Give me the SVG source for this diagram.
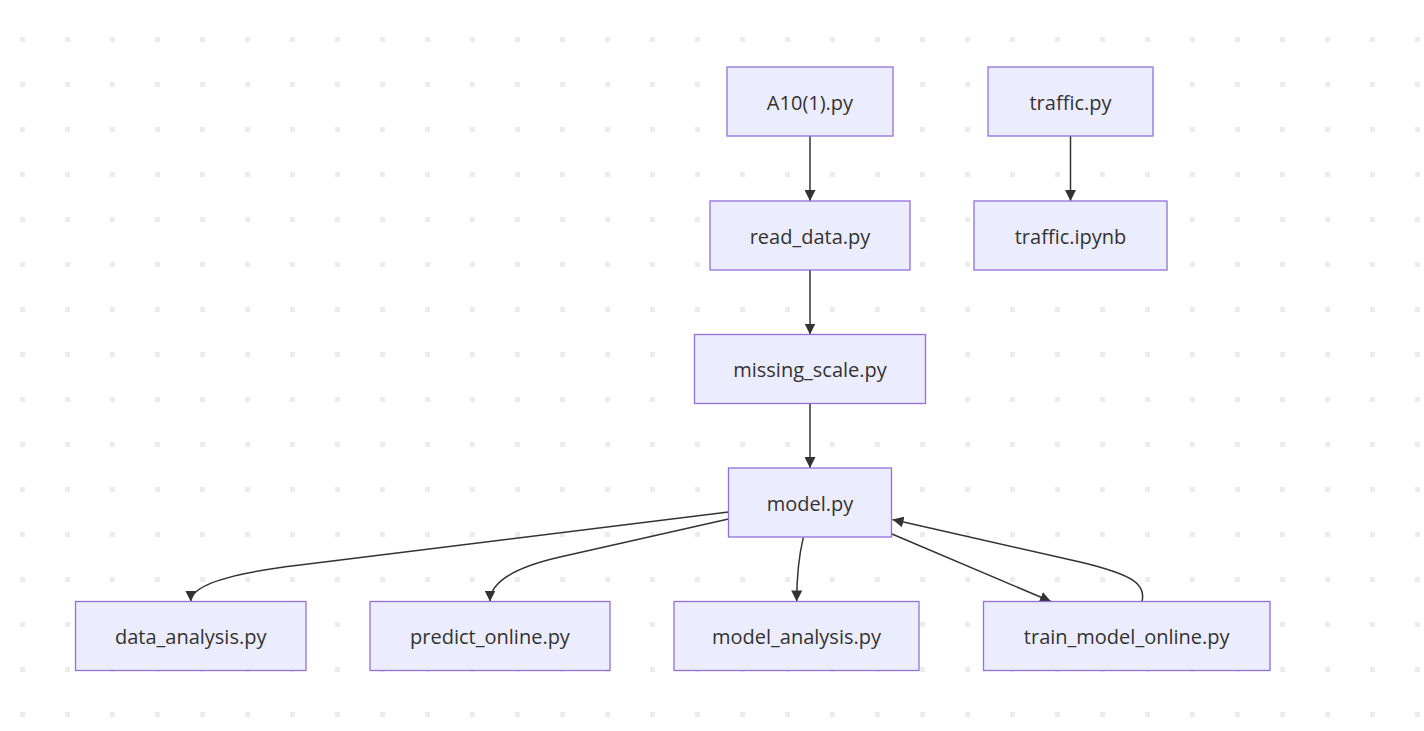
<svg xmlns="http://www.w3.org/2000/svg" width="1424" height="731" viewBox="0 0 1424 731">
<style>
.node rect{fill:#ECECFF;stroke:#9370DB;stroke-width:1.3}
.node text{font-family:"Open Sans","DejaVu Sans",sans-serif;font-size:20px;fill:#333;text-anchor:middle}
.edge{fill:none;stroke:#333;stroke-width:1.5;marker-end:url(#arrow)}
</style>
<defs>
<pattern id="dots" patternUnits="userSpaceOnUse" x="20" y="37" width="45" height="45">
<rect x="0" y="0" width="5" height="5" fill="#ececec"/>
</pattern>
<marker id="arrow" viewBox="0 0 10 10" refX="10" refY="5" markerUnits="userSpaceOnUse" markerWidth="11" markerHeight="11" orient="auto">
<path d="M0,0 L10,5 L0,10 z" fill="#333"/>
</marker>
</defs>
<rect x="0" y="0" width="1424" height="731" fill="#ffffff"/>
<rect x="0" y="0" width="1424" height="731" fill="url(#dots)"/>
<g id="edges">
<path class="edge" d="M810,136 L810,201"/>
<path class="edge" d="M1070.5,136 L1070.5,201"/>
<path class="edge" d="M810,270 L810,334.5"/>
<path class="edge" d="M810,403.5 L810,468"/>
<path class="edge" d="M728.5,512 L300,565 Q190.7,578 190.7,601.5"/>
<path class="edge" d="M728.5,519 L560,557 Q490,573 490,601.5"/>
<path class="edge" d="M803.3,537.3 Q796.7,565 796.7,601.5"/>
<path class="edge" d="M892,534 L1051,601.5"/>
<path class="edge" d="M1142,601.5 C1146,585 1135,575 1080,562 L892.5,519.5"/>
</g>
<g id="n-a10" class="node"><rect x="727" y="67" width="166" height="69"/><text x="810" y="109.5">A10(1).py</text></g>
<g id="n-traffic-py" class="node"><rect x="988" y="67" width="165" height="69"/><text x="1070.5" y="109.5">traffic.py</text></g>
<g id="n-read-data" class="node"><rect x="710" y="201" width="200" height="69"/><text x="810" y="243.5">read_data.py</text></g>
<g id="n-traffic-ipynb" class="node"><rect x="974" y="201" width="193" height="69"/><text x="1070.5" y="243.5">traffic.ipynb</text></g>
<g id="n-missing-scale" class="node"><rect x="694.5" y="334.5" width="231" height="69"/><text x="810" y="377">missing_scale.py</text></g>
<g id="n-model" class="node"><rect x="728.5" y="468" width="163" height="69"/><text x="810" y="510.5">model.py</text></g>
<g id="n-data-analysis" class="node"><rect x="75.5" y="601.5" width="230.5" height="69"/><text x="190.7" y="644">data_analysis.py</text></g>
<g id="n-predict-online" class="node"><rect x="370" y="601.5" width="240" height="69"/><text x="490" y="644">predict_online.py</text></g>
<g id="n-model-analysis" class="node"><rect x="674" y="601.5" width="245" height="69"/><text x="796.5" y="644">model_analysis.py</text></g>
<g id="n-train-model-online" class="node"><rect x="983.5" y="601.5" width="286.5" height="69"/><text x="1126.7" y="644">train_model_online.py</text></g>
</svg>
